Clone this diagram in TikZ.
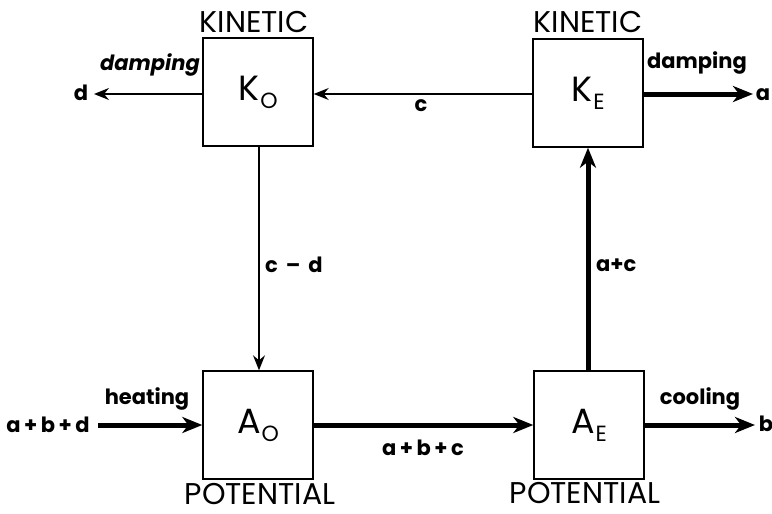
\documentclass[tikz,border=0pt]{standalone}
\usepackage{fontspec}
\setmainfont{Poppins}
\usetikzlibrary{arrows.meta}
\begin{document}
\begin{tikzpicture}[x=1pt,y=-1pt,
  box/.style={draw,line width=1.4pt,minimum width=110pt,minimum height=108pt,inner sep=0pt,font=\fontsize{35}{35}\selectfont},
  captxt/.style={font=\fontsize{30}{30}\selectfont},
  lbl/.style={font=\fontsize{21}{21}\selectfont\bfseries,inner sep=0pt},
  thinarr/.style={line width=1.3pt,-{Stealth[length=15pt,width=12pt,inset=5pt]}},
  thickarr/.style={line width=5pt,-{Stealth[length=20pt,width=16pt,inset=6pt]}}]
\useasboundingbox (0,0) rectangle (772,514);
\newcommand{\subl}[1]{\kern1pt\raisebox{-8pt}{\fontsize{22}{22}\selectfont #1}}
\node[box] (KO) at (258,92) {K\subl{O}};
\node[box] (KE) at (588,93) {K\subl{E}};
\node[box] (AO) at (258,425) {A\subl{O}};
\node[box] (AE) at (589,425) {A\subl{E}};
\node[captxt,anchor=south,inner sep=2pt] (kin1) at (254,35) {KINETIC};
\node[captxt,anchor=south,inner sep=2pt] (kin2) at (588,35) {KINETIC};
\node[captxt,anchor=north,inner sep=2pt] (pot1) at (260,481) {POTENTIAL};
\node[captxt,anchor=north,inner sep=2pt] (pot2) at (585,480) {POTENTIAL};
% free ends
\node[lbl] (d) at (81,93) {d};
\node[lbl] (a) at (763,95) {a};
\node[lbl] (abd) at (48,425) {a\,+\,b\,+\,d};
\node[lbl] (b) at (766,424) {b};
\coordinate (dE) at (94,94);
\coordinate (aE) at (753,94);
\coordinate (hS) at (98,425);
\coordinate (bE) at (755,425);
% arrows
\draw[thinarr] (KO.west |- 0,94) -- (dE);
\draw[thinarr] (KE.west |- 0,94) -- (KO.east |- 0,94);
\draw[thickarr] (KE.east |- 0,94) -- (aE);
\draw[thinarr] (KO.south -| 259,0) -- (AO.north -| 259,0);
\draw[thickarr] (AE.north -| 588,0) -- (KE.south -| 588,0);
\draw[thickarr] (hS) -- (AO.west);
\draw[thickarr] (AO.east) -- (AE.west);
\draw[thickarr] (AE.east) -- (bE);
% labels
\node[lbl,font=\fontsize{21}{21}\selectfont\bfseries\itshape] (damp1) at (150,65) {damping};
\node[lbl] (damp2) at (697,63) {damping};
\node[lbl] (c) at (421,106) {c};
\node[lbl,anchor=west] (cmd) at (265,265) {c \,–\, d};
\node[lbl,anchor=west] (apc) at (596,265) {a+c};
\node[lbl] (heat) at (147,399) {heating};
\node[lbl] (abc) at (423,448) {a\,+\,b\,+\,c};
\node[lbl] (cool) at (700,399) {cooling};
\end{tikzpicture}
\end{document}
